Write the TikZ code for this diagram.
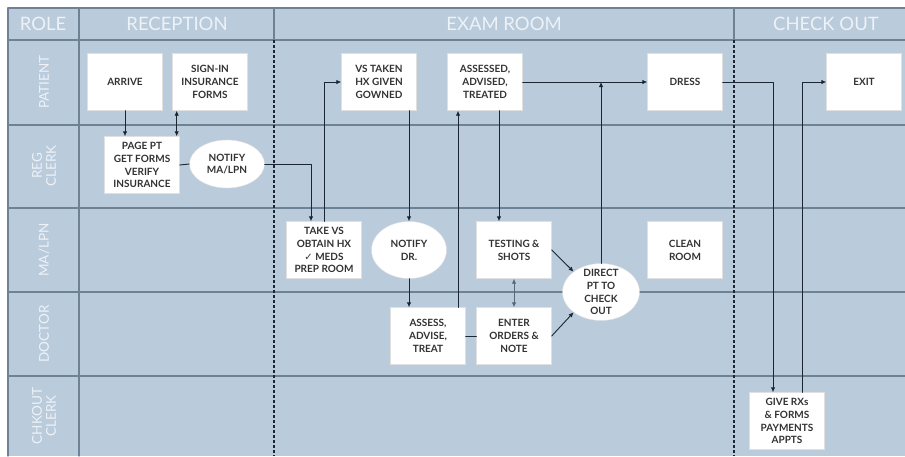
\documentclass[tikz,border=0pt]{standalone}
\usepackage{fontspec}
\setmainfont{Lato}
\newfontfamily\symfont{DejaVu Sans}
\usetikzlibrary{shapes.geometric,arrows.meta}

\definecolor{lanefill}{RGB}{186,203,220}
\definecolor{laneline}{RGB}{110,130,150}
\definecolor{lanetext}{RGB}{238,242,247}
\definecolor{flowline}{RGB}{28,38,50}
\definecolor{boxtext}{RGB}{50,50,50}

\begin{document}
\begin{tikzpicture}[x=1pt,y=-1pt, line cap=round, line join=round,
  task/.style={draw=black!12, fill=white, minimum width=75pt, minimum height=57pt,
               inner sep=1pt, align=center, text=boxtext,
               font=\fontsize{10}{12.8}\selectfont\bfseries},
  note/.style={task, ellipse, inner sep=-5pt},
  flow/.style={draw=flowline, line width=0.9pt, -{Latex[length=5pt,width=4.5pt]}},
  twoway/.style={flow, {Latex[length=5pt,width=4.5pt]}-{Latex[length=5pt,width=4.5pt]}},
  plain/.style={draw=flowline, line width=0.9pt},
  headlabel/.style={text=lanetext, font=\fontsize{18.5}{20}\selectfont},
  rolelabel/.style={text=lanetext, rotate=90, align=center,
                    font=\fontsize{13.5}{14}\selectfont}]

% -----------------------------
% Parameters
% -----------------------------
\def\L{8}        % left edge of the grid
\def\T{8}        % top edge of the grid
\def\R{905}      % right edge (grid runs off the page)
\def\B{456}      % bottom edge
\def\roleW{79}   % right side of the role column

\useasboundingbox (0,0) rectangle (\R,\B);

% -----------------------------
% Swim lanes
% -----------------------------
\fill[lanefill] (\L,\T) rectangle (\R,\B);
\draw[laneline, line width=1.3pt] (\R,\T) -- (\L,\T) -- (\L,\B);
\foreach \yy in {40,125,208,292,376}
  \draw[laneline, line width=1.3pt] (\L,\yy) -- (\R,\yy);
\draw[laneline, line width=1.3pt] (\roleW,\T) -- (\roleW,\B);
\foreach \xx in {274,734}
  \draw[laneline, line width=1.3pt] (\xx,\T) -- (\xx,40);

% stage borders below the header
\foreach \xx in {274,734}
  \draw[flowline, line width=1.6pt, line cap=butt, dash pattern=on 3pt off 2pt] (\xx,40) -- (\xx,\B);

% -----------------------------
% Headers and roles
% -----------------------------
\node[headlabel] (hd-role) at (43,24) {ROLE};
\node[headlabel] (hd-recep) at (177,24) {RECEPTION};
\node[headlabel] (hd-exam) at (504,24) {EXAM ROOM};
\node[headlabel] (hd-out) at (826,24) {CHECK OUT};

\foreach \yy/\who/\txt in {82/patient/PATIENT, 166/reg/{REG\\CLERK},
                           250/ma/{MA/LPN}, 334/doc/DOCTOR, 416/chk/{CHKOUT\\CLERK}}
  \node[rolelabel] (role-\who) at (44,\yy) {\txt};

% -----------------------------
% Tasks
% -----------------------------
\node[task] (arrive)   at (125,82)  {ARRIVE};
\node[task] (signin)   at (210,82)  {SIGN-IN\\INSURANCE\\FORMS};
\node[task] (pagept)   at (142,165) {PAGE PT\\GET FORMS\\VERIFY\\INSURANCE};
\node[note, minimum height=48pt] (notifyma) at (227,164) {NOTIFY\\MA/LPN};

\node[task] (vstaken)  at (379,82)  {VS TAKEN\\HX GIVEN\\GOWNED};
\node[task] (assessed) at (485,82)  {ASSESSED,\\ADVISED,\\TREATED};
\node[task] (dress)    at (685,82)  {DRESS};
\node[task] (takevs)   at (324,250) {TAKE VS\\OBTAIN HX\\{\symfont\mdseries ✓} MEDS\\PREP ROOM};
\node[note] (notifydr) at (409,250) {NOTIFY\\DR.};
\node[task] (testing)  at (514,250) {TESTING \&\\SHOTS};
\node[task] (clean)    at (685,250) {CLEAN\\ROOM};
\node[task] (assess)   at (428,336) {ASSESS,\\ADVISE,\\TREAT};
\node[task] (enter)    at (514,336) {ENTER\\ORDERS \&\\NOTE};
\node[note, minimum width=77pt] (direct) at (601,292) {DIRECT\\PT TO\\CHECK\\OUT};

\node[task] (exit)     at (864,82)  {EXIT};
\node[task] (giverx)   at (787,421) {GIVE RXs\\\& FORMS\\PAYMENTS\\APPTS};

% -----------------------------
% Flow
% -----------------------------
\draw[flow] (arrive.south) -- (arrive.south |- pagept.north);
\draw[twoway] ([xshift=-3pt]pagept.north east) -- ([xshift=-3pt]pagept.north east |- signin.south);
\draw[plain] (pagept.east) -- (notifyma.west);
\draw[flow] (notifyma.east) -| ([xshift=-13pt]takevs.north);
\draw[flow] (takevs.north) |- (vstaken.west);
\draw[flow] (vstaken.south -| notifydr.north) -- (notifydr.north);
\draw[flow] (notifydr.south) -- (notifydr.south |- assess.north);
\draw[flow] ([xshift=30pt]assess.north) -- ([xshift=30pt]assess.north |- assessed.south);
\draw[flow] ([xshift=14pt]assessed.south) -- ([xshift=14pt]assessed.south |- testing.north);
\draw[plain] (assess.east) -- (enter.west);
\draw[twoway, draw=laneline!80!black] (testing.south) -- (enter.north);
\draw[flow] (testing.east) -- (direct.north west);
\draw[flow] (enter.east) -- (direct.south west);
\draw[flow] (direct.north) -- (direct.north |- assessed.east);
\draw[flow] (assessed.east) -- (dress.west);
\draw[flow] (dress.east) -| ([xshift=-14pt]giverx.north);
\draw[flow] ([xshift=15pt]giverx.north) |- (exit.west);

\end{tikzpicture}
\end{document}
